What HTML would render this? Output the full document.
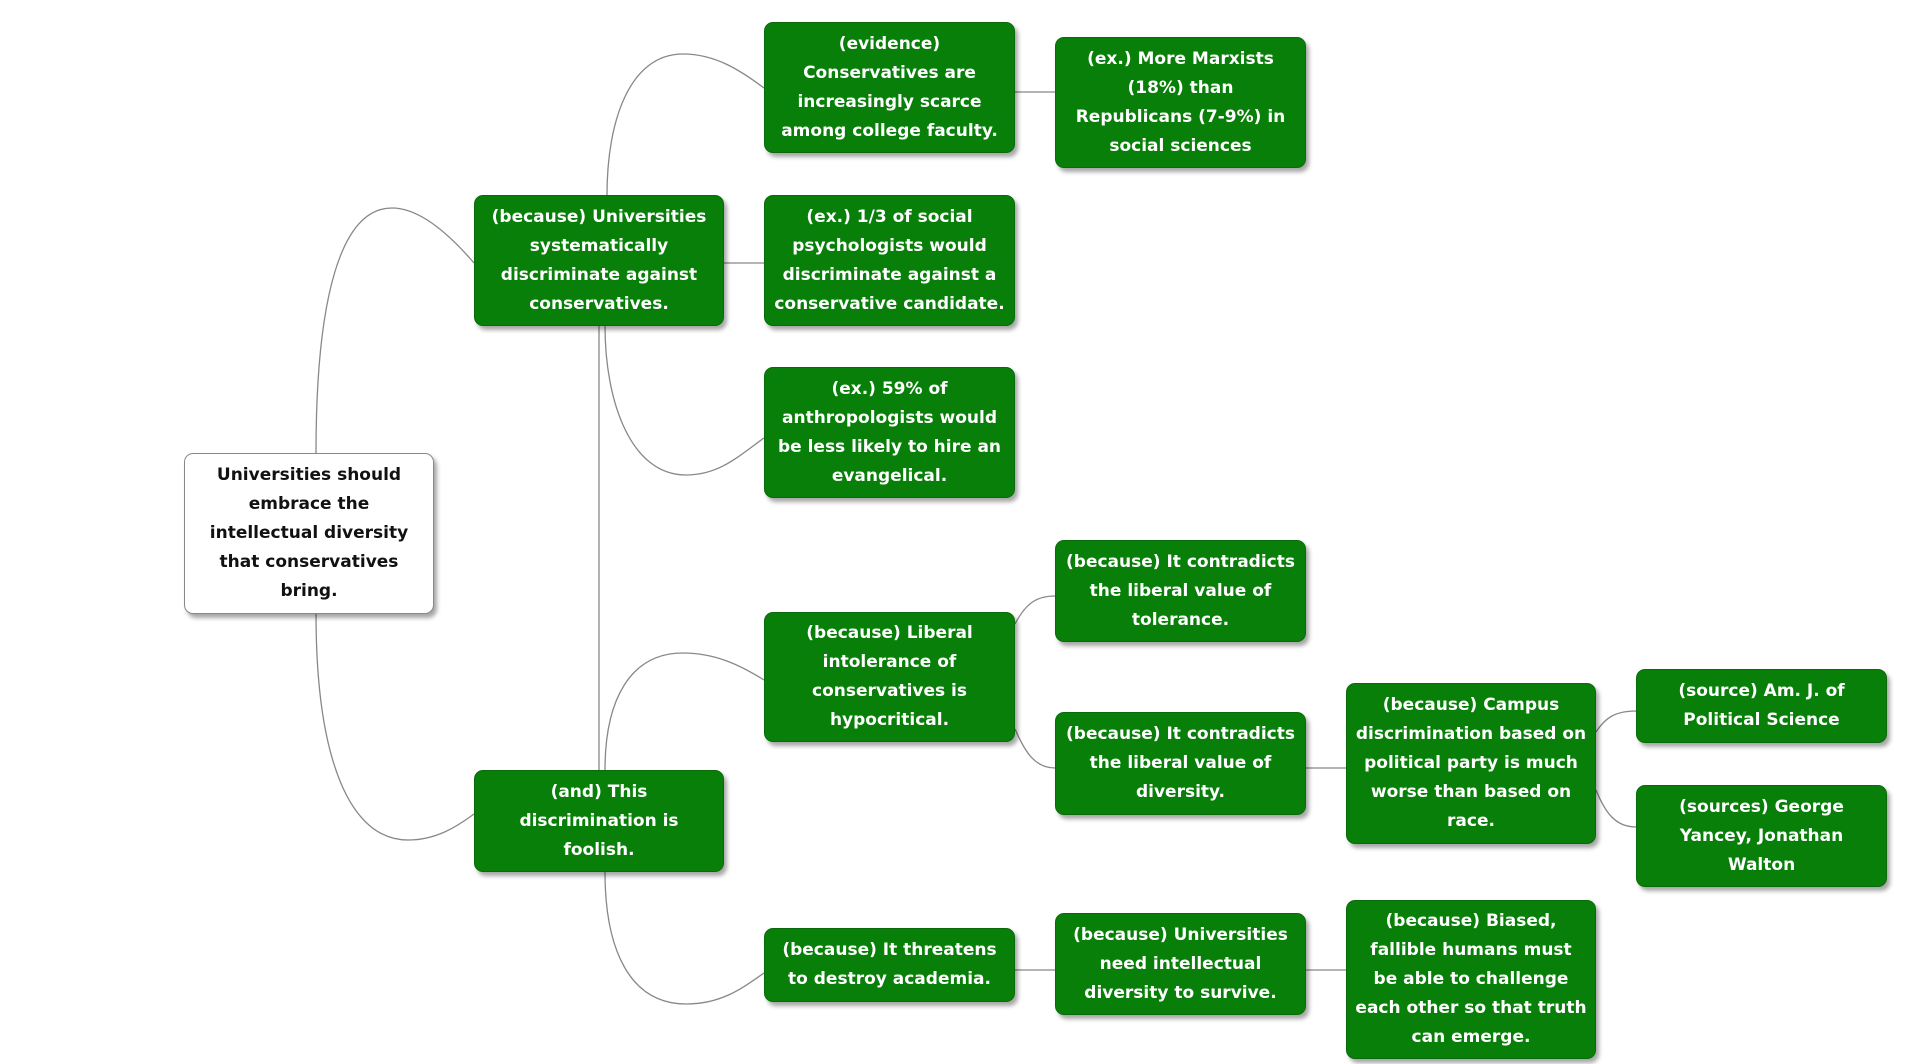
<!DOCTYPE html>
<html><head><meta charset="utf-8"><style>
html,body{margin:0;padding:0;background:#fff;width:1920px;height:1064px;overflow:hidden}
.b{position:absolute;box-sizing:border-box;display:flex;align-items:center;justify-content:center;text-align:center;
font-family:"DejaVu Sans","Liberation Sans",sans-serif;font-weight:bold;font-size:17px;line-height:29px;color:#fff;
background:#087f08;border:1px solid #0a6a0a;border-radius:9px;box-shadow:3px 4px 4px rgba(0,0,0,0.35);padding:0 4px;white-space:nowrap}
.r{background:#fff;color:#111;border:1.5px solid #888}
svg{position:absolute;left:0;top:0}
</style></head><body>
<svg width="1920" height="1064"><g fill="none" stroke="#888" stroke-width="1.3">
<path d="M316 453 C316 300 340 208 392 208 C420 208 450 235 474 263"/>
<path d="M316 613 C316 760 350 840 408 840 C435 840 455 828 474 814"/>
<line x1="599" y1="326" x2="599" y2="770"/>
<path d="M607 195 C607 120 630 54 683 54 C715 54 740 70 764 88"/>
<line x1="724" y1="263" x2="764" y2="263"/>
<path d="M605 326 C605 400 630 475 686 475 C720 475 740 455 764 438"/>
<path d="M605 770 C605 700 630 653 683 653 C715 653 740 665 764 680"/>
<path d="M605 872 C605 950 630 1004 686 1004 C720 1004 740 990 764 973"/>
<line x1="1015" y1="92" x2="1055" y2="92"/>
<path d="M1015 624 C1025 605 1035 596 1055 596"/>
<path d="M1015 729 C1025 752 1035 768 1055 768"/>
<line x1="1305" y1="768" x2="1346" y2="768"/>
<path d="M1596 732 C1605 718 1615 711 1636 711"/>
<path d="M1596 790 C1605 812 1615 827 1636 827"/>
<line x1="1015" y1="970" x2="1055" y2="970"/>
<line x1="1305" y1="970" x2="1346" y2="970"/>
</g></svg>
<div class="b r" style="left:184px;top:453px;width:250px;height:161px">Universities should<br>embrace the<br>intellectual diversity<br>that conservatives<br>bring.</div>
<div class="b" style="left:474px;top:195px;width:250px;height:131px">(because) Universities<br>systematically<br>discriminate against<br>conservatives.</div>
<div class="b" style="left:474px;top:770px;width:250px;height:102px">(and) This<br>discrimination is<br>foolish.</div>
<div class="b" style="left:764px;top:22px;width:251px;height:131px">(evidence)<br>Conservatives are<br>increasingly scarce<br>among college faculty.</div>
<div class="b" style="left:764px;top:195px;width:251px;height:131px">(ex.) 1/3 of social<br>psychologists would<br>discriminate against a<br>conservative candidate.</div>
<div class="b" style="left:764px;top:367px;width:251px;height:131px">(ex.) 59% of<br>anthropologists would<br>be less likely to hire an<br>evangelical.</div>
<div class="b" style="left:764px;top:612px;width:251px;height:130px">(because) Liberal<br>intolerance of<br>conservatives is<br>hypocritical.</div>
<div class="b" style="left:764px;top:928px;width:251px;height:74px">(because) It threatens<br>to destroy academia.</div>
<div class="b" style="left:1055px;top:37px;width:251px;height:131px">(ex.) More Marxists<br>(18%) than<br>Republicans (7-9%) in<br>social sciences</div>
<div class="b" style="left:1055px;top:540px;width:251px;height:102px">(because) It contradicts<br>the liberal value of<br>tolerance.</div>
<div class="b" style="left:1055px;top:712px;width:251px;height:103px">(because) It contradicts<br>the liberal value of<br>diversity.</div>
<div class="b" style="left:1055px;top:913px;width:251px;height:102px">(because) Universities<br>need intellectual<br>diversity to survive.</div>
<div class="b" style="left:1346px;top:683px;width:250px;height:161px">(because) Campus<br>discrimination based on<br>political party is much<br>worse than based on<br>race.</div>
<div class="b" style="left:1346px;top:900px;width:250px;height:159px">(because) Biased,<br>fallible humans must<br>be able to challenge<br>each other so that truth<br>can emerge.</div>
<div class="b" style="left:1636px;top:669px;width:251px;height:74px">(source) Am. J. of<br>Political Science</div>
<div class="b" style="left:1636px;top:785px;width:251px;height:102px">(sources) George<br>Yancey, Jonathan<br>Walton</div>
</body></html>
